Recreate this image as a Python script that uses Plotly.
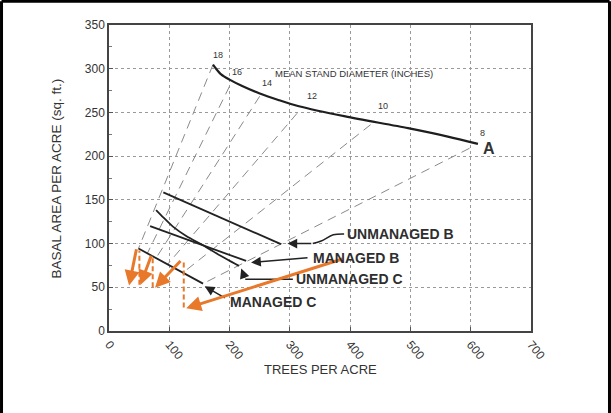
import plotly.graph_objects as go

# ---------------- data ----------------
curveA_x = [172.5, 177, 186, 200, 220, 249, 282, 315, 392, 496, 562, 612]
curveA_y = [304.7, 300.5, 293.5, 287.5, 280.5, 272, 264, 257, 245.4, 232, 222.4, 214]

diam_labels = ["18", "16", "14", "12", "10", "8"]
diam_label_x = [180.7, 212, 261.4, 336.2, 454.2, 620]
diam_label_y = [316.1, 295.8, 283.7, 269.1, 256.8, 226.3]
diam_top_x = [172.5, 200, 250, 312, 434, 598]
diam_top_y = [304.7, 280, 268.5, 249, 236, 209]
diam_bot_x = [48.9, 63.6, 78.0, 97.1, 122.5, 156.0]
diam_bot_y = [94.3, 88.8, 83.4, 76.2, 66.6, 54.2]

unmanaged_b_x = [90.1, 285.2]
unmanaged_b_y = [158.6, 99.3]
unmanaged_c_x = [78.1, 90.1, 106.6, 128.7, 156.0, 183.5, 215.5]
unmanaged_c_y = [138.3, 129.9, 119.1, 108.4, 98.1, 86.6, 74.5]
managed_b_x = [68.2, 227.5]
managed_b_y = [119.9, 80.1]
managed_c_x = [48.9, 156.0]
managed_c_y = [94.3, 54.2]

series_labels = ["UNMANAGED B", "MANAGED B", "UNMANAGED C", "MANAGED C"]
label_x = [391, 334.6, 307, 196.7]
label_y = [111.5, 84, 59.1, 33]

# pointer lines (polyline part) and arrow heads
ptr_ub_x = [390, 372, 352, 338]
ptr_ub_y = [111, 110, 103, 100]
ptr_ub_head = (296, 100)
ptr_mb_tail = (331.8, 84)
ptr_mb_head = (235.7, 78.3)
ptr_uc_x = [305, 226]
ptr_uc_y = [59.1, 59.1]
ptr_uc_head = (219.3, 71.4)
ptr_mc_tail = (194.6, 37)
ptr_mc_head = (158.8, 51.1)

# orange harvest / growth sequence
cut_tail_x = [389.5, 121, 71, 46]
cut_tail_y = [82.9, 81.7, 87.8, 95.3]
cut_head_x = [128, 76.4, 52, 33.3]
cut_head_y = [26, 49.6, 52.5, 52]
grow_x = [124, 72.5, 50.4]
grow_lo = [27, 50, 53]
grow_hi = [80, 87, 92]

x_ticks = [0, 100, 200, 300, 400, 500, 600, 700]
y_ticks = [0, 50, 100, 150, 200, 250, 300, 350]

# ---------------- figure ----------------
TXT = "#333333"
FONT = "Liberation Sans, Arial, sans-serif"
ORANGE = "#E8782A"

fig = go.Figure()

# diameter lines (dashed gray)
for i in range(len(diam_labels)):
    fig.add_trace(go.Scatter(
        x=[diam_top_x[i], diam_bot_x[i]], y=[diam_top_y[i], diam_bot_y[i]],
        mode="lines", line=dict(color="#8a8a8a", width=1, dash="9px,6px"),
        hoverinfo="skip", showlegend=False))

# curve A
fig.add_trace(go.Scatter(x=curveA_x, y=curveA_y, mode="lines",
                         line=dict(color="#1e1e1e", width=2.2, shape="spline", smoothing=0.8),
                         showlegend=False))
for xs, ys in [(unmanaged_b_x, unmanaged_b_y), (unmanaged_c_x, unmanaged_c_y),
               (managed_b_x, managed_b_y), (managed_c_x, managed_c_y)]:
    fig.add_trace(go.Scatter(x=xs, y=ys, mode="lines",
                             line=dict(color="#222222", width=1.8, shape="spline", smoothing=0.5),
                             showlegend=False))

# pointer polylines
fig.add_trace(go.Scatter(x=ptr_ub_x, y=ptr_ub_y, mode="lines",
                         line=dict(color="#222222", width=1.5, shape="spline"), showlegend=False))
fig.add_trace(go.Scatter(x=ptr_uc_x, y=ptr_uc_y, mode="lines",
                         line=dict(color="#222222", width=1.5), showlegend=False))

# orange dashed growth segments
for i in range(len(grow_x)):
    fig.add_trace(go.Scatter(x=[grow_x[i], grow_x[i]], y=[grow_lo[i], grow_hi[i]], mode="lines",
                             line=dict(color=ORANGE, width=2, dash="5px,3px"), showlegend=False))

ann = []
def arrow(head, tail, color, width, size):
    ann.append(dict(x=head[0], y=head[1], ax=tail[0], ay=tail[1], xref="x", yref="y",
                    axref="x", ayref="y", text="", showarrow=True, arrowhead=2,
                    arrowsize=size, arrowwidth=width, arrowcolor=color, standoff=0, startstandoff=0))

arrow(ptr_ub_head, (ptr_ub_x[-1], ptr_ub_y[-1]), "#222222", 1.5, 1.3)
arrow(ptr_mb_head, ptr_mb_tail, "#222222", 1.5, 1.3)
arrow(ptr_uc_head, (ptr_uc_x[-1], ptr_uc_y[-1]), "#222222", 1.5, 1.3)
arrow(ptr_mc_head, ptr_mc_tail, "#222222", 1.5, 1.3)
for i in range(len(cut_tail_x)):
    arrow((cut_head_x[i], cut_head_y[i]), (cut_tail_x[i], cut_tail_y[i]), ORANGE, 3, 1.0)

for t, x, y in zip(diam_labels, diam_label_x, diam_label_y):
    ann.append(dict(x=x, y=y, xref="x", yref="y", text=t, showarrow=False,
                    font=dict(family=FONT, size=9, color=TXT)))
ann.append(dict(x=272.5, y=294.3, xref="x", yref="y", text="MEAN STAND DIAMETER (INCHES)",
                showarrow=False, xanchor="left", font=dict(family=FONT, size=9.5, color=TXT)))
ann.append(dict(x=631, y=209, xref="x", yref="y", text="<b>A</b>", showarrow=False,
                font=dict(family=FONT, size=16, color=TXT)))
for t, x, y in zip(series_labels, label_x, label_y):
    ann.append(dict(x=x, y=y, xref="x", yref="y", text="<b>" + t + "</b>", showarrow=False,
                    xanchor="left", font=dict(family=FONT, size=14, color="#2e2e2e")))

# axis titles
ann.append(dict(x=0.5, y=-0.157, xref="paper", yref="paper", text="TREES PER ACRE",
                showarrow=False, font=dict(family=FONT, size=13, color=TXT)))
ann.append(dict(x=-0.147, y=0.5, xref="paper", yref="paper", text="BASAL AREA PER ACRE (sq. ft.)",
                showarrow=False, textangle=-90, font=dict(family=FONT, size=13.5, color=TXT)))

shapes = [
    dict(type="line", xref="paper", yref="paper", x0=-0.2547, x1=-0.2547, y0=1.078, y1=-0.27,
         line=dict(color="black", width=3)),
    dict(type="line", xref="paper", yref="paper", x0=-0.2547, x1=1.186, y0=1.078, y1=1.078,
         line=dict(color="black", width=3)),
    dict(type="line", xref="paper", yref="paper", x0=1.186, x1=1.186, y0=1.078, y1=-0.27,
         line=dict(color="black", width=3)),
]

fig.update_layout(
    width=611, height=413, autosize=False,
    margin=dict(l=109, r=80, t=25, b=82, pad=0),
    paper_bgcolor="white", plot_bgcolor="white",
    annotations=ann, shapes=shapes, showlegend=False,
    xaxis=dict(range=[0, 700], tickvals=x_ticks, ticktext=[str(v) for v in x_ticks],
               showgrid=True, gridcolor="#9a9a9a", gridwidth=1, griddash="dot",
               showline=True, linecolor="#444444", linewidth=1.5, mirror=True,
               ticks="inside", ticklen=4, tickcolor="#555555", tickangle=50, zeroline=False,
               tickfont=dict(family=FONT, size=12, color=TXT)),
    yaxis=dict(range=[0, 350], tickvals=y_ticks, ticktext=[str(v) for v in y_ticks],
               showgrid=True, gridcolor="#9a9a9a", gridwidth=1, griddash="dot",
               showline=True, linecolor="#444444", linewidth=1.5, mirror=True,
               ticks="inside", ticklen=4, tickcolor="#555555", zeroline=False,
               minor=dict(dtick=25, ticks="inside", ticklen=3, tickcolor="#777777", showgrid=False),
               tickfont=dict(family=FONT, size=12, color=TXT)),
)

fig.write_html("out.html", config={"displayModeBar": False},
               post_script="document.body.style.margin='0px';document.body.style.overflow='hidden';")
